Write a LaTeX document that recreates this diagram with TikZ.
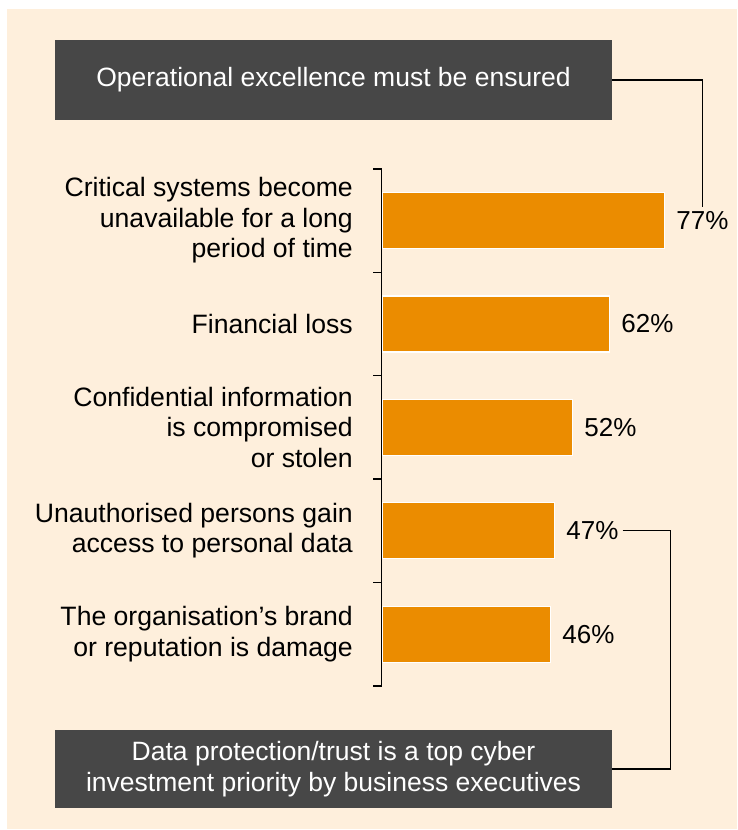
\documentclass[tikz,border=0pt]{standalone}
\usepackage{fontspec}
\setmainfont{Liberation Sans}
\usetikzlibrary{positioning}
\definecolor{cream}{RGB}{254,239,220}
\definecolor{pwcorange}{RGB}{235,140,0}
\definecolor{darkbox}{RGB}{71,71,71}

\tikzset{
  bar/.style={fill=pwcorange, draw=white, line width=1.2pt, anchor=west, minimum height=56pt, inner sep=0pt},
  lbl/.style={align=right, inner sep=0pt, font=\fontsize{26.6}{30.5}\selectfont},
  pct/.style={inner sep=4pt, font=\fontsize{26}{30}\selectfont},
  msgbox/.style={fill=darkbox, text=white, align=center, minimum width=557pt, inner sep=0pt, font=\fontsize{26.5}{31}\selectfont},
  link/.style={line width=1.4pt}
}

\begin{document}
\begin{tikzpicture}[x=1pt,y=-1pt]
\useasboundingbox (0,0) rectangle (737,830);
\fill[cream] (7,9) rectangle (737,829);

% message boxes
\node[msgbox, minimum height=80pt] (top) at (333.5,80) {Operational excellence must be ensured};
\node[msgbox, minimum height=78pt] (bot) at (333.5,769) {Data protection/trust is a top cyber\\investment priority by business executives};

% bars
\node[bar, minimum width=282pt] (b1) at (382,220.5) {};
\node[bar, minimum width=227pt] (b2) at (382,323.9) {};
\node[bar, minimum width=190pt] (b3) at (382,427.3) {};
\node[bar, minimum width=172pt] (b4) at (382,530.7) {};
\node[bar, minimum width=168pt] (b5) at (382,634.1) {};

% axis with ticks
\draw[link] (373,168.8) -- (381.5,168.8) -- (381.5,685.8) -- (373,685.8);
\draw[link] (373,272.2) -- (381.5,272.2);
\draw[link] (373,375.6) -- (381.5,375.6);
\draw[link] (373,479.0) -- (381.5,479.0);
\draw[link] (373,582.4) -- (381.5,582.4);

% category labels
\node[lbl, left=29pt of b1] (l1) {Critical systems become\\unavailable for a long\\period of time};
\node[lbl, left=29pt of b2] (l2) {Financial loss};
\node[lbl, left=29pt of b3] (l3) {Confidential information\\is compromised\\or stolen};
\node[lbl, left=29pt of b4] (l4) {Unauthorised persons gain\\access to personal data};
\node[lbl, left=29pt of b5] (l5) {The organisation’s brand\\or reputation is damage};

% values
\node[pct, right=7pt of b1] (p1) {77\%};
\node[pct, right=7pt of b2] (p2) {62\%};
\node[pct, right=7pt of b3] (p3) {52\%};
\node[pct, right=7pt of b4] (p4) {47\%};
\node[pct, right=7pt of b5] (p5) {46\%};

% connectors
\draw[link] (top.east) -| (p1.north);
\draw[link] (p4.east) -- ++(48,0) |- (bot.east);
\end{tikzpicture}
\end{document}
